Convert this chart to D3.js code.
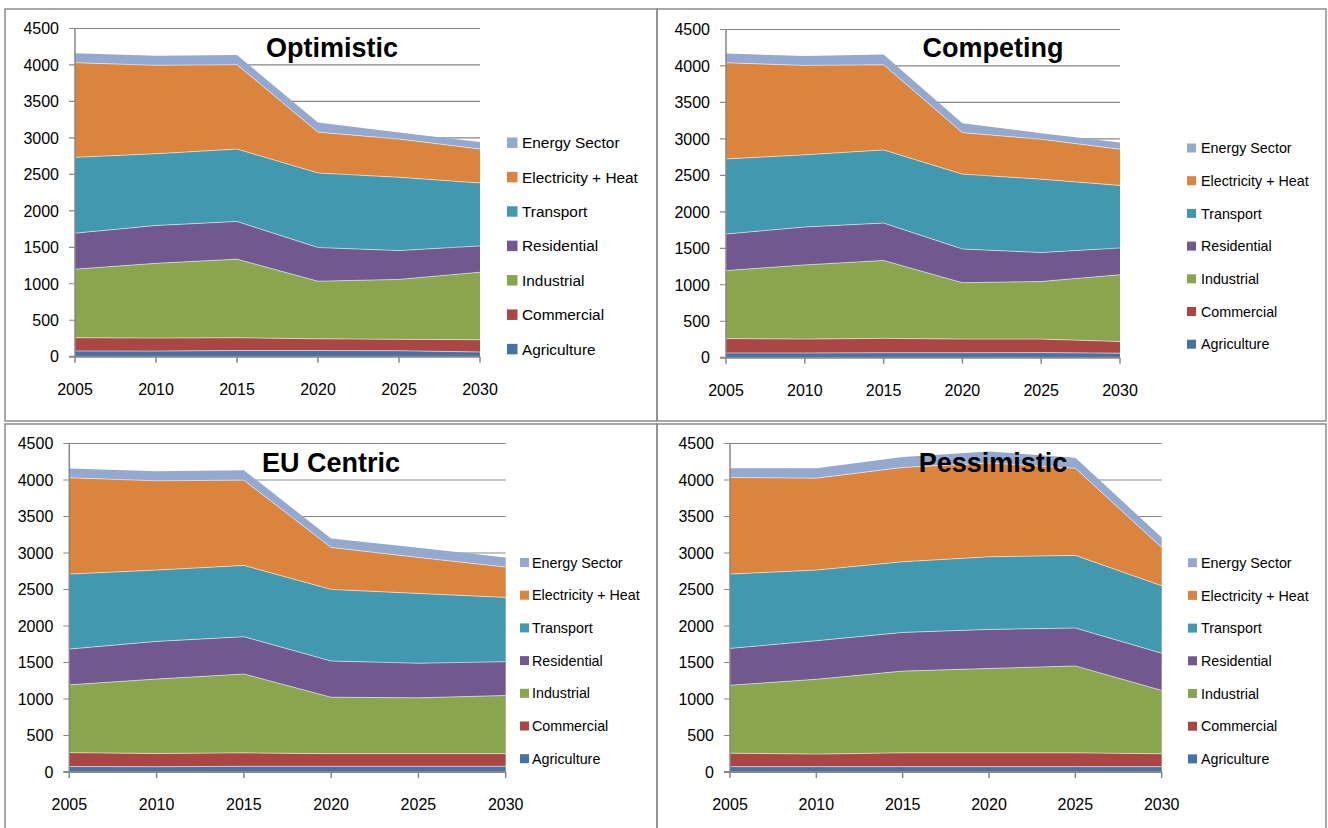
<!DOCTYPE html>
<html>
<head>
<meta charset="utf-8">
<script src="https://cdn.jsdelivr.net/npm/d3@7"></script>
<style>
  body { margin: 0; background: #fff; }
  svg text { font-family: 'Liberation Sans', Arial, sans-serif; fill: #000; }
</style>
</head>
<body>
<svg id="chart" width="1328" height="828"></svg>
<script>
'use strict';

const years = [2005, 2010, 2015, 2020, 2025, 2030];
const sectors = ['Agriculture', 'Commercial', 'Industrial', 'Residential',
  'Transport', 'Electricity + Heat', 'Energy Sector'];
const sectorColors = ['#4572A7', '#AA4643', '#89A54E', '#71588F',
  '#4198AF', '#DB843D', '#93A9CF'];
const yTicks = [0, 500, 1000, 1500, 2000, 2500, 3000, 3500, 4000, 4500];

// one row per sector (same order as `sectors`), one value per year
const optimistic = [
  [78, 77, 85, 85, 82, 65],
  [182, 178, 175, 160, 156, 168],
  [940, 1025, 1077, 790, 822, 925],
  [494, 519, 517, 462, 395, 361],
  [1039, 984, 993, 1022, 1005, 863],
  [1298, 1212, 1157, 560, 524, 465],
  [128, 132, 132, 132, 91, 96]
];

const competing = [
  [65, 65, 68, 68, 70, 62],
  [197, 190, 197, 187, 185, 160],
  [932, 1017, 1068, 773, 790, 915],
  [502, 520, 513, 462, 397, 367],
  [1030, 989, 1003, 1027, 1006, 858],
  [1318, 1226, 1167, 569, 547, 496],
  [127, 128, 142, 128, 82, 92]
];

const euCentric = [
  [75, 72, 78, 78, 78, 78],
  [190, 182, 184, 173, 173, 173],
  [929, 1019, 1080, 773, 765, 797],
  [490, 516, 511, 496, 474, 463],
  [1027, 977, 977, 981, 956, 881],
  [1319, 1223, 1168, 575, 493, 415],
  [128, 132, 137, 123, 133, 132]
];

const pessimistic = [
  [73, 73, 73, 73, 73, 73],
  [185, 172, 189, 189, 189, 177],
  [930, 1025, 1120, 1156, 1191, 868],
  [505, 528, 530, 535, 519, 509],
  [1018, 968, 968, 995, 995, 924],
  [1324, 1259, 1292, 1284, 1193, 525],
  [125, 135, 143, 158, 146, 137]
];

// panel layout: frame, plot area, legend and title placement
const panels = [
  { title: 'Optimistic', values: optimistic,
    frame: [5, 9, 652, 412], plot: [75, 28.5, 480, 356.7],
    legend: { swatchX: 507, textX: 522, y: 142.7, step: 34.4, size: 10.5, font: 15.4 },
    titleX: 332, titleY: 57 },
  { title: 'Competing', values: competing,
    frame: [657, 9, 669, 412], plot: [726, 29.5, 1120, 357.7],
    legend: { swatchX: 1187, textX: 1201, y: 148, step: 32.7, size: 9, font: 14.3 },
    titleX: 993, titleY: 57 },
  { title: 'EU Centric', values: euCentric,
    frame: [5, 424, 652, 410], plot: [69.3, 443.5, 505.7, 772],
    legend: { swatchX: 520, textX: 532, y: 562.5, step: 32.7, size: 9, font: 14.3 },
    titleX: 331, titleY: 471.5 },
  { title: 'Pessimistic', values: pessimistic,
    frame: [657, 424, 669, 410], plot: [730, 443.5, 1161.7, 772],
    legend: { swatchX: 1188, textX: 1201, y: 562.7, step: 32.7, size: 9, font: 14.3 },
    titleX: 993, titleY: 471.5 }
];

const svg = d3.select('#chart');
panels.forEach(p => drawPanel(svg, p));

function drawPanel(root, p) {
  const g = root.append('g');
  const [left, top, right, bottom] = p.plot;

  // frame around the panel
  g.append('rect')
    .attr('x', p.frame[0])
    .attr('y', p.frame[1])
    .attr('width', p.frame[2])
    .attr('height', p.frame[3])
    .attr('fill', 'none')
    .attr('stroke', '#8c8c8c')
    .attr('stroke-width', 1.5);

  const x = d3.scalePoint().domain(years).range([left, right]);
  const y = d3.scaleLinear().domain([0, 4500]).range([bottom, top]);

  // horizontal gridlines (with the outside tick stub)
  g.selectAll('line.grid')
    .data(yTicks.slice(1))
    .join('line')
    .attr('class', 'grid')
    .attr('x1', left - 6)
    .attr('x2', right)
    .attr('y1', d => y(d))
    .attr('y2', d => y(d))
    .attr('stroke', '#878787')
    .attr('stroke-width', 1.2);

  // stacked areas
  const rows = years.map((yr, i) => {
    const row = { year: yr };
    sectors.forEach((s, j) => { row[s] = p.values[j][i]; });
    return row;
  });
  const series = d3.stack().keys(sectors)(rows);

  const area = d3.area()
    .x(d => x(d.data.year))
    .y0(d => y(d[0]))
    .y1(d => y(d[1]));

  const topLine = d3.line()
    .x(d => x(d.data.year))
    .y(d => y(d[1]));

  g.selectAll('path.layer')
    .data(series)
    .join('path')
    .attr('class', 'layer')
    .attr('d', area)
    .attr('fill', (d, i) => sectorColors[i]);

  // light seams between the layers
  g.selectAll('path.seam')
    .data(series.slice(0, -1))
    .join('path')
    .attr('class', 'seam')
    .attr('d', topLine)
    .attr('fill', 'none')
    .attr('stroke', '#ffffff')
    .attr('stroke-opacity', 0.55)
    .attr('stroke-width', 1);

  // axes
  g.append('line')
    .attr('x1', left).attr('x2', left)
    .attr('y1', top).attr('y2', bottom)
    .attr('stroke', '#878787')
    .attr('stroke-width', 1.5);

  g.append('line')
    .attr('x1', left - 6).attr('x2', right)
    .attr('y1', bottom).attr('y2', bottom)
    .attr('stroke', '#878787')
    .attr('stroke-width', 2);

  g.selectAll('line.xtick')
    .data(years)
    .join('line')
    .attr('class', 'xtick')
    .attr('x1', d => x(d)).attr('x2', d => x(d))
    .attr('y1', bottom).attr('y2', bottom + 6)
    .attr('stroke', '#878787')
    .attr('stroke-width', 1.5);

  g.selectAll('text.ylabel')
    .data(yTicks)
    .join('text')
    .attr('class', 'ylabel')
    .attr('x', left - 16)
    .attr('y', d => y(d))
    .attr('dy', '0.36em')
    .attr('text-anchor', 'end')
    .style('font-size', '16px')
    .text(d => d);

  g.selectAll('text.xlabel')
    .data(years)
    .join('text')
    .attr('class', 'xlabel')
    .attr('x', d => x(d))
    .attr('y', bottom + 38)
    .attr('text-anchor', 'middle')
    .style('font-size', '16px')
    .text(d => d);

  // legend, top entry is the last stacked series
  const legendItems = sectors.map((s, i) => ({ name: s, color: sectorColors[i] })).reverse();
  const lg = p.legend;
  const item = g.selectAll('g.legend')
    .data(legendItems)
    .join('g')
    .attr('class', 'legend')
    .attr('transform', (d, i) => `translate(0,${lg.y + i * lg.step})`);
  item.append('rect')
    .attr('x', lg.swatchX)
    .attr('y', -lg.size / 2)
    .attr('width', lg.size)
    .attr('height', lg.size)
    .attr('fill', d => d.color);
  item.append('text')
    .attr('x', lg.textX)
    .attr('dy', '0.36em')
    .style('font-size', lg.font + 'px')
    .text(d => d.name);

  // title drawn over the plot
  g.append('text')
    .attr('x', p.titleX)
    .attr('y', p.titleY)
    .attr('text-anchor', 'middle')
    .style('font-size', '27px')
    .style('font-weight', 'bold')
    .text(p.title);
}
</script>
</body>
</html>
